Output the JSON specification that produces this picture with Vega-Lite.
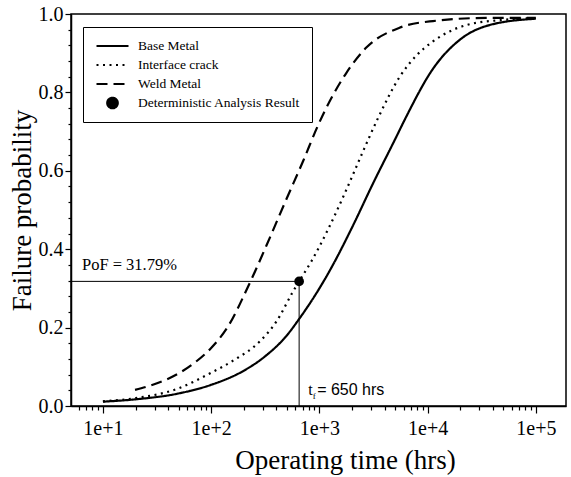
{
  "$schema": "https://vega.github.io/schema/vega-lite/v6.json",
  "width": 495,
  "height": 392,
  "autosize": "none",
  "padding": {"left": 71, "top": 14, "right": 5, "bottom": 71},
  "background": "white",
  "config": {
    "view": {"stroke": "black", "strokeWidth": 1.5},
    "axis": {
      "grid": false,
      "domainColor": "black",
      "domainWidth": 1.5,
      "tickColor": "black",
      "tickWidth": 1.2,
      "labelColor": "black",
      "titleColor": "black",
      "labelFont": "Liberation Serif",
      "titleFont": "Liberation Serif",
      "titleFontWeight": "normal",
      "labelFontSize": 20,
      "titleFontSize": 27,
      "labelOverlap": false,
      "labelFlush": false
    },
    "legend": {
      "orient": "none",
      "legendX": 12,
      "legendY": 13,
      "strokeColor": "black",
      "strokeWidth": 1,
      "padding": 12,
      "symbolType": "stroke",
      "symbolSize": 1024,
      "clipHeight": 14,
      "rowPadding": 5,
      "labelFont": "Liberation Serif",
      "labelFontSize": 13.5,
      "labelLimit": 400,
      "labelColor": "black",
      "labelOffset": 8,
      "symbolStrokeWidth": 2.2,
      "symbolStrokeColor": "black",
      "fillColor": "white"
    }
  },
  "resolve": {"axis": {"x": "independent", "y": "independent"}},
  "layer": [
    {
      "data": {
        "values": [
          {"series": "Base Metal", "t": 10, "p": 0.011},
          {"series": "Base Metal", "t": 20, "p": 0.017},
          {"series": "Base Metal", "t": 50, "p": 0.032},
          {"series": "Base Metal", "t": 100, "p": 0.054},
          {"series": "Base Metal", "t": 200, "p": 0.09},
          {"series": "Base Metal", "t": 316, "p": 0.127},
          {"series": "Base Metal", "t": 500, "p": 0.18},
          {"series": "Base Metal", "t": 650, "p": 0.222},
          {"series": "Base Metal", "t": 1000, "p": 0.3},
          {"series": "Base Metal", "t": 1334, "p": 0.36},
          {"series": "Base Metal", "t": 2000, "p": 0.455},
          {"series": "Base Metal", "t": 3160, "p": 0.57},
          {"series": "Base Metal", "t": 5000, "p": 0.68},
          {"series": "Base Metal", "t": 6400, "p": 0.74},
          {"series": "Base Metal", "t": 11200, "p": 0.86},
          {"series": "Base Metal", "t": 20000, "p": 0.935},
          {"series": "Base Metal", "t": 37600, "p": 0.972},
          {"series": "Base Metal", "t": 100000, "p": 0.988},
          {"series": "Interface crack", "t": 10, "p": 0.012},
          {"series": "Interface crack", "t": 20, "p": 0.02},
          {"series": "Interface crack", "t": 50, "p": 0.045},
          {"series": "Interface crack", "t": 100, "p": 0.085},
          {"series": "Interface crack", "t": 158, "p": 0.115},
          {"series": "Interface crack", "t": 282, "p": 0.165},
          {"series": "Interface crack", "t": 400, "p": 0.215},
          {"series": "Interface crack", "t": 571, "p": 0.292},
          {"series": "Interface crack", "t": 650, "p": 0.318},
          {"series": "Interface crack", "t": 847, "p": 0.37},
          {"series": "Interface crack", "t": 1200, "p": 0.45},
          {"series": "Interface crack", "t": 1700, "p": 0.54},
          {"series": "Interface crack", "t": 2400, "p": 0.635},
          {"series": "Interface crack", "t": 3490, "p": 0.735},
          {"series": "Interface crack", "t": 5530, "p": 0.84},
          {"series": "Interface crack", "t": 7940, "p": 0.895},
          {"series": "Interface crack", "t": 11200, "p": 0.93},
          {"series": "Interface crack", "t": 23000, "p": 0.972},
          {"series": "Interface crack", "t": 50000, "p": 0.985},
          {"series": "Interface crack", "t": 100000, "p": 0.99},
          {"series": "Weld Metal", "t": 19.8, "p": 0.041},
          {"series": "Weld Metal", "t": 31.6, "p": 0.058},
          {"series": "Weld Metal", "t": 50, "p": 0.083},
          {"series": "Weld Metal", "t": 70, "p": 0.11},
          {"series": "Weld Metal", "t": 100, "p": 0.148},
          {"series": "Weld Metal", "t": 141, "p": 0.2},
          {"series": "Weld Metal", "t": 224, "p": 0.31},
          {"series": "Weld Metal", "t": 325, "p": 0.41},
          {"series": "Weld Metal", "t": 500, "p": 0.53},
          {"series": "Weld Metal", "t": 708, "p": 0.625},
          {"series": "Weld Metal", "t": 968, "p": 0.715},
          {"series": "Weld Metal", "t": 1259, "p": 0.78},
          {"series": "Weld Metal", "t": 1778, "p": 0.85},
          {"series": "Weld Metal", "t": 2730, "p": 0.915},
          {"series": "Weld Metal", "t": 5500, "p": 0.965},
          {"series": "Weld Metal", "t": 11200, "p": 0.982},
          {"series": "Weld Metal", "t": 35000, "p": 0.99},
          {"series": "Weld Metal", "t": 100000, "p": 0.99}
        ]
      },
      "mark": {"type": "line", "color": "black", "strokeWidth": 2.2, "interpolate": "monotone"},
      "encoding": {
        "x": {
          "field": "t",
          "type": "quantitative",
          "scale": {"type": "log", "domain": [5.07, 190000], "nice": false},
          "axis": {
            "orient": "bottom",
            "title": "Operating time (hrs)",
            "values": [10, 100, 1000, 10000, 100000],
            "labelExpr": "'1e+' + format(log(datum.value)/LN10, '.0f')",
            "tickSize": 7,
            "labelPadding": 5,
            "titlePadding": 9,
            "titleX": 274
          }
        },
        "y": {
          "field": "p",
          "type": "quantitative",
          "scale": {"domain": [0, 1], "nice": false},
          "axis": {
            "orient": "left",
            "title": "Failure probability",
            "values": [0, 0.2, 0.4, 0.6, 0.8, 1.0],
            "format": ".1f",
            "tickSize": 6,
            "labelPadding": 2,
            "titlePadding": 2
          }
        },
        "strokeDash": {
          "field": "series",
          "type": "nominal",
          "scale": {
            "domain": ["Base Metal", "Interface crack", "Weld Metal", "Deterministic Analysis Result"],
            "range": [[1, 0], [2, 4.5], [11, 6], [1, 0]]
          },
          "legend": {
            "title": null,
            "encode": {
              "symbols": {
                "update": {
                  "shape": {"signal": "datum.value === 'Deterministic Analysis Result' ? 'circle' : 'stroke'"},
                  "size": {"signal": "datum.value === 'Deterministic Analysis Result' ? 110 : 1024"},
                  "fill": {"signal": "datum.value === 'Deterministic Analysis Result' ? 'black' : 'transparent'"},
                  "stroke": {"value": "black"}
                }
              }
            }
          }
        }
      }
    },
    {
      "data": {"values": [{"x0": 5.07, "x1": 650, "y": 0.3179}]},
      "mark": {"type": "rule", "color": "black", "strokeWidth": 1},
      "encoding": {
        "x": {"field": "x0", "type": "quantitative", "axis": null},
        "x2": {"field": "x1"},
        "y": {"field": "y", "type": "quantitative", "axis": null}
      }
    },
    {
      "data": {"values": [{"x": 650, "y0": 0, "y1": 0.3179}]},
      "mark": {"type": "rule", "color": "black", "strokeWidth": 1},
      "encoding": {
        "x": {
          "field": "x",
          "type": "quantitative",
          "axis": {
            "orient": "bottom",
            "values": [6, 7, 8, 9, 20, 30, 40, 50, 60, 70, 80, 90, 200, 300, 400, 500, 600, 700, 800, 900, 2000, 3000, 4000, 5000, 6000, 7000, 8000, 9000, 20000, 30000, 40000, 50000, 60000, 70000, 80000, 90000],
            "labels": false,
            "title": null,
            "domain": false,
            "tickSize": 4
          }
        },
        "y": {
          "field": "y0",
          "type": "quantitative",
          "axis": {
            "orient": "left",
            "values": [0.04, 0.08, 0.12, 0.16, 0.24, 0.28, 0.32, 0.36, 0.44, 0.48, 0.52, 0.56, 0.64, 0.68, 0.72, 0.76, 0.84, 0.88, 0.92, 0.96],
            "labels": false,
            "title": null,
            "domain": false,
            "tickSize": 3
          }
        },
        "y2": {"field": "y1"}
      }
    },
    {
      "data": {"values": [{"series": "Deterministic Analysis Result", "t": 650, "p": 0.3179}]},
      "mark": {"type": "point", "filled": true, "color": "black", "size": 95, "opacity": 1},
      "encoding": {
        "x": {"field": "t", "type": "quantitative", "axis": null},
        "y": {"field": "p", "type": "quantitative", "axis": null},
        "strokeDash": {"field": "series", "type": "nominal"}
      }
    },
    {
      "data": {"values": [{"t": 6.4, "p": 0.3179, "label": "PoF = 31.79%"}]},
      "mark": {"type": "text", "align": "left", "baseline": "alphabetic", "dy": -11, "font": "Liberation Serif", "fontSize": 16.5, "color": "black"},
      "encoding": {
        "x": {"field": "t", "type": "quantitative", "axis": null},
        "y": {"field": "p", "type": "quantitative", "axis": null},
        "text": {"field": "label"}
      }
    },
    {
      "data": {"values": [{"t": 650, "p": 0, "label": "t"}]},
      "mark": {"type": "text", "align": "left", "baseline": "alphabetic", "dx": 9, "dy": -11, "font": "Liberation Serif", "fontSize": 16, "color": "black"},
      "encoding": {
        "x": {"field": "t", "type": "quantitative", "axis": null},
        "y": {"field": "p", "type": "quantitative", "axis": null},
        "text": {"field": "label"}
      }
    },
    {
      "data": {"values": [{"t": 650, "p": 0, "label": "f"}]},
      "mark": {"type": "text", "align": "left", "baseline": "alphabetic", "dx": 13.5, "dy": -7, "font": "Liberation Serif", "fontSize": 9, "color": "black"},
      "encoding": {
        "x": {"field": "t", "type": "quantitative", "axis": null},
        "y": {"field": "p", "type": "quantitative", "axis": null},
        "text": {"field": "label"}
      }
    },
    {
      "data": {"values": [{"t": 650, "p": 0, "label": "= 650 hrs"}]},
      "mark": {"type": "text", "align": "left", "baseline": "alphabetic", "dx": 18, "dy": -11, "font": "Liberation Sans", "fontSize": 16, "color": "black"},
      "encoding": {
        "x": {"field": "t", "type": "quantitative", "axis": null},
        "y": {"field": "p", "type": "quantitative", "axis": null},
        "text": {"field": "label"}
      }
    }
  ]
}
